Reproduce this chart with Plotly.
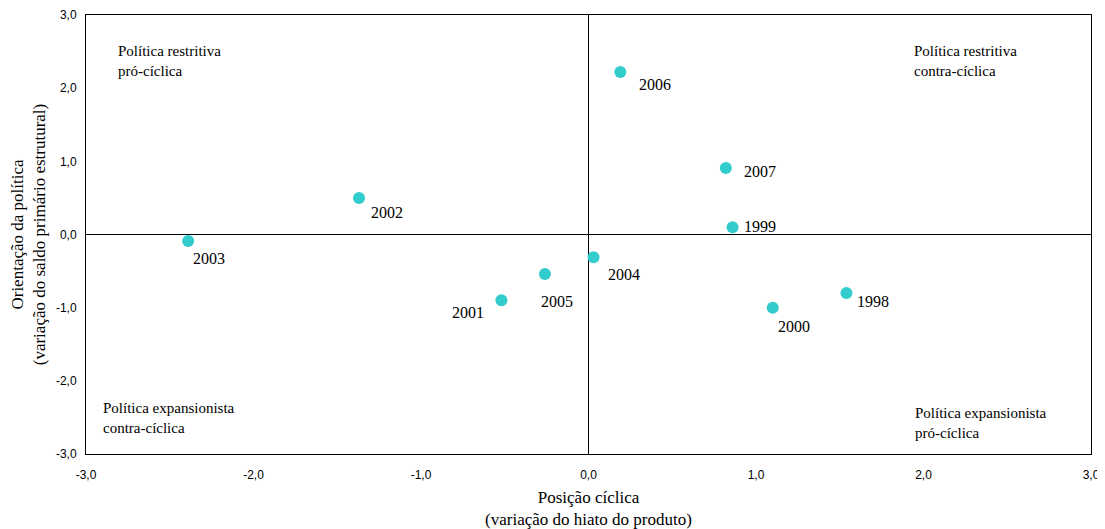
import plotly.graph_objects as go

# Data
years = ["1998", "1999", "2000", "2001", "2002", "2003", "2004", "2005", "2006", "2007"]
ciclica = [1.54, 0.86, 1.10, -0.52, -1.37, -2.39, 0.03, -0.26, 0.19, 0.82]
orientacao = [-0.80, 0.10, -1.00, -0.90, 0.50, -0.09, -0.31, -0.54, 2.22, 0.91]

x_ticks = [-3, -2, -1, 0, 1, 2, 3]
x_ticktext = ["-3,0", "-2,0", "-1,0", "0,0", "1,0", "2,0", "3,0"]
y_ticks = [-3, -2, -1, 0, 1, 2, 3]
y_ticktext = ["-3,0", "-2,0", "-1,0", "0,0", "1,0", "2,0", "3,0"]

quadrant_labels = [
    "Política restritiva<br>pró-cíclica",
    "Política restritiva<br>contra-cíclica",
    "Política expansionista<br>contra-cíclica",
    "Política expansionista<br>pró-cíclica",
]

# label placement (pixel offsets from each point)
label_offsets = {
    "1998": (27, -8), "1999": (27, 1), "2000": (21, -19), "2001": (-33, -12),
    "2002": (28, -15), "2003": (21, -17), "2004": (30, -17), "2005": (12, -27),
    "2006": (35, -12), "2007": (34, -4),
}
quadrant_pos = [(-2.82, 2.37), (1.93, 2.37), (-2.91, -2.51), (1.935, -2.575)]

serif = "Liberation Serif"
sans = "Liberation Sans"

fig = go.Figure()
fig.add_trace(go.Scatter(
    x=ciclica, y=orientacao, mode="markers",
    marker=dict(size=12, color="#33CCCC"),
    hoverinfo="skip", showlegend=False,
))

annotations = []
for yr, xv, yv in zip(years, ciclica, orientacao):
    dx, dy = label_offsets[yr]
    annotations.append(dict(
        x=xv, y=yv, text=yr, showarrow=False, xshift=dx, yshift=dy,
        font=dict(family=serif, size=16, color="black"),
    ))
for txt, (qx, qy) in zip(quadrant_labels, quadrant_pos):
    annotations.append(dict(
        x=qx, y=qy, text=txt, showarrow=False, xanchor="left", yanchor="middle",
        align="left", font=dict(family=serif, size=15, color="black"),
    ))

# page body has an 8px margin: shrink figure and margins to compensate
fig.update_layout(
    width=1097, height=521,
    margin=dict(l=78, r=14, t=7, b=75, autoexpand=False),
    paper_bgcolor="white", plot_bgcolor="white",
    font=dict(family=serif),
    annotations=annotations,
    xaxis=dict(
        range=[-3, 3], tickvals=x_ticks, ticktext=x_ticktext, automargin=False,
        showgrid=False, zeroline=True, zerolinecolor="black", zerolinewidth=1,
        showline=True, linecolor="black", linewidth=1, mirror=True,
        ticks="", ticklabelstandoff=10, tickfont=dict(family=sans, size=12, color="black"),
        title=dict(text="Posição cíclica<br>(variação do hiato do produto)",
                   font=dict(family=serif, size=17, color="black"), standoff=10),
    ),
    yaxis=dict(
        range=[-3, 3], tickvals=y_ticks, ticktext=y_ticktext, automargin=False,
        showgrid=False, zeroline=True, zerolinecolor="black", zerolinewidth=1,
        showline=True, linecolor="black", linewidth=1, mirror=True,
        ticks="", ticklabelstandoff=6, tickfont=dict(family=sans, size=12, color="black"),
        title=dict(text="Orientação da política<br>(variação do saldo primário estrutural)",
                   font=dict(family=serif, size=17, color="black"), standoff=8),
    ),
)

fig.write_html("out.html")
